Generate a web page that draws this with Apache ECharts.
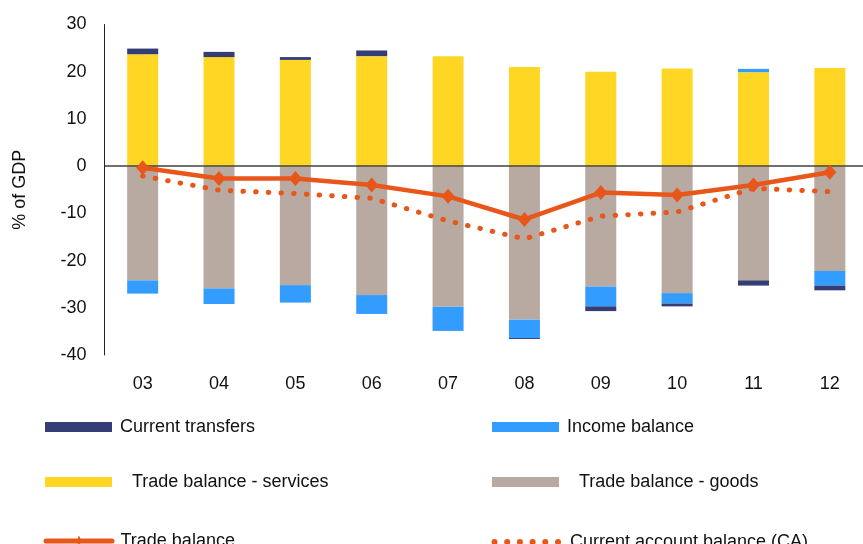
<!DOCTYPE html>
<html>
<head>
<meta charset="utf-8">
<script src="https://cdn.jsdelivr.net/npm/echarts@6/dist/echarts.min.js"></script>
<style>
  html, body { margin: 0; padding: 0; background: #fff; }
  #char { width: 863px; height: 544px; }
</style>
</head>
<body>
<div id="char"></div>
<script>
// years on the x axis
const years = ['03', '04', '05', '06', '07', '08', '09', '10', '11', '12']
// % of GDP
const goods = [-24.2, -25.9, -25.2, -27.3, -29.8, -32.5, -25.5, -26.9, -24.2, -22.2]
const services = [23.7, 23.1, 22.5, 23.3, 23.3, 21.0, 20.0, 20.7, 19.9, 20.8]
const income = [-2.8, -3.3, -3.7, -4.0, -5.1, -3.9, -4.2, -2.2, 0.7, -3.1]
const transfers = [1.2, 1.1, 0.6, 1.2, 0, -0.2, -1.0, -0.6, -1.1, -1.0]
const tradeBalance = [-0.35, -2.6, -2.6, -4.0, -6.4, -11.3, -5.6, -6.1, -4.0, -1.3]
const caBalance = [-2.1, -5.1, -5.8, -6.8, -11.6, -15.4, -10.6, -9.7, -4.7, -5.4]
const yTicks = { min: -40, max: 30, step: 10 }

const font = 'Liberation Sans, Arial, sans-serif'
const orange = '#E8561A'

// legend icons drawn as paths (thick line with diamond, row of dots)
const tbIcon = 'path://M2.5,3L68.5,3A2.5,2.5 0 0,1 68.5,8L2.5,8A2.5,2.5 0 0,1 2.5,3Z M35.5,0L38,5.5L35.5,11L33,5.5Z'
let dots = ''
for (let i = 0; i < 6; i++) {
  const cx = 3 + i * 12.7
  dots += 'M' + (cx - 3) + ',3a3,3 0 1,0 6,0a3,3 0 1,0 -6,0Z'
}
const caIcon = 'path://' + dots

const chart = echarts.init(document.getElementById('char'))

function legendAt (name, left, top, extra) {
  return Object.assign({
    data: [name],
    left: left,
    top: top,
    padding: 0,
    orient: 'horizontal',
    icon: 'rect',
    itemWidth: 67,
    itemHeight: 10,
    selectedMode: false,
    textStyle: { fontFamily: font, fontSize: 18, color: '#111', padding: [0, 0, 0, 3] }
  }, extra || {})
}

function pad (left) {
  return { fontFamily: font, fontSize: 18, color: '#111', padding: [0, 0, 0, left] }
}

const option = {
  animation: false,
  textStyle: { fontFamily: font },
  grid: { left: 104.5, width: 763.5, top: 24.5, bottom: 189, outerBoundsMode: 'none' },
  legend: [
    legendAt('Current transfers', 45, 418),
    legendAt('Income balance', 492, 418),
    legendAt('Trade balance - services', 45, 473, { textStyle: pad(15) }),
    legendAt('Trade balance - goods', 492, 473, { textStyle: pad(15) }),
    legendAt('Trade balance', 43.5, 532, { icon: tbIcon, itemWidth: 71, itemHeight: 11, textStyle: pad(1) }),
    legendAt('Current account balance (CA)', 491.5, 533, { icon: caIcon, itemWidth: 69.5, itemHeight: 6, textStyle: pad(4) })
  ],
  xAxis: {
    type: 'category',
    data: years,
    axisLine: { show: false },
    axisTick: { show: false },
    axisLabel: { fontSize: 18, color: '#111', margin: 20, fontFamily: font }
  },
  yAxis: {
    type: 'value',
    min: yTicks.min,
    max: yTicks.max,
    interval: yTicks.step,
    name: '% of GDP',
    nameLocation: 'middle',
    nameGap: 75,
    nameTextStyle: { fontSize: 18, color: '#111', fontFamily: font },
    axisLine: { show: true, lineStyle: { color: '#222', width: 1 } },
    axisTick: { show: false },
    splitLine: { show: false },
    axisLabel: { fontSize: 18, color: '#111', margin: 18, fontFamily: font }
  },
  series: [
    {
      name: 'Trade balance - goods',
      type: 'bar',
      stack: 'bop',
      barWidth: 31,
      itemStyle: { color: '#B8A9A1' },
      data: goods
    },
    {
      name: 'Trade balance - services',
      type: 'bar',
      stack: 'bop',
      barWidth: 31,
      itemStyle: { color: '#FFD624' },
      data: services
    },
    {
      name: 'Income balance',
      type: 'bar',
      stack: 'bop',
      barWidth: 31,
      itemStyle: { color: '#339CFF' },
      data: income
    },
    {
      name: 'Current transfers',
      type: 'bar',
      stack: 'bop',
      barWidth: 31,
      itemStyle: { color: '#343D75' },
      data: transfers,
      markLine: {
        silent: true,
        symbol: 'none',
        label: { show: false },
        lineStyle: { color: '#404040', width: 1.5, type: 'solid' },
        data: [{ yAxis: 0 }]
      }
    },
    {
      name: 'Trade balance',
      type: 'line',
      z: 5,
      symbol: 'diamond',
      symbolSize: [13, 15],
      itemStyle: { color: orange },
      lineStyle: { color: orange, width: 4.5 },
      data: tradeBalance
    },
    {
      name: 'Current account balance (CA)',
      type: 'line',
      z: 4,
      symbol: 'none',
      itemStyle: { color: orange },
      lineStyle: { color: orange, width: 5, type: [0.5, 12.2], cap: 'round' },
      data: caBalance
    }
  ]
}

chart.setOption(option)
</script>
</body>
</html>
